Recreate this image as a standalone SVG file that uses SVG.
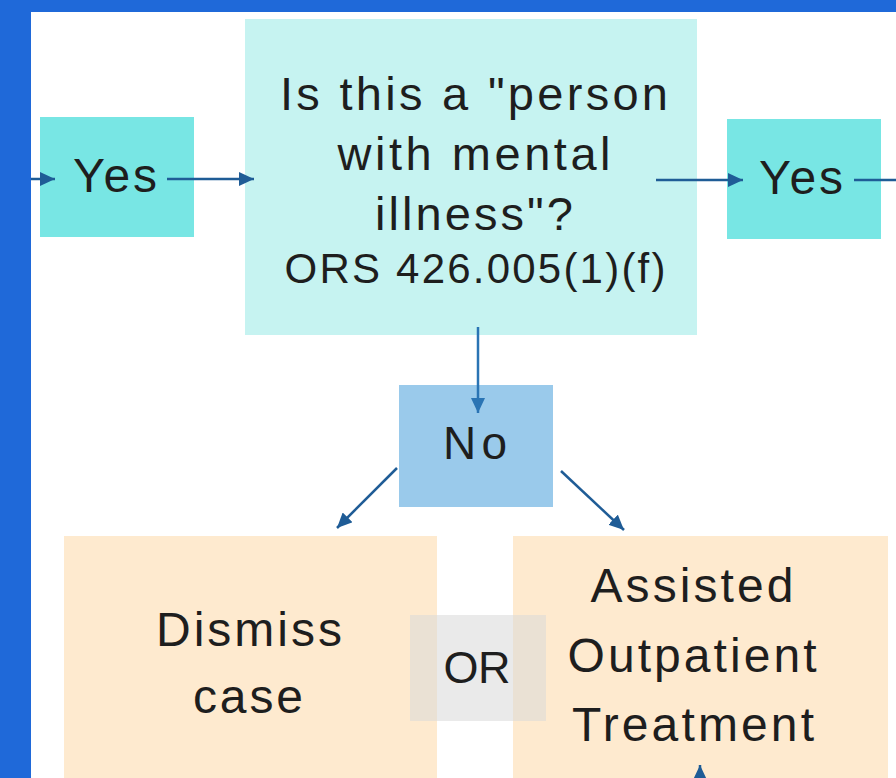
<svg xmlns="http://www.w3.org/2000/svg" width="896" height="778" viewBox="0 0 896 778">
<style>
text{font-family:"Liberation Sans",Arial,sans-serif;fill:#1e1e1e;text-anchor:middle}
.yes{fill:#78e6e4}
.main{fill:#c6f3f1}
.no{fill:#9acaeb}
.out{fill:#feeacf}
.or{fill:#d8d8d8;fill-opacity:0.55}
.c{stroke:#1f5c96;stroke-width:2.5;fill:none;marker-end:url(#ah)}
.c2{stroke:#2a74b4;stroke-width:2.5;fill:none;marker-end:url(#ah2)}
</style>
<defs>
<marker id="ah" markerUnits="userSpaceOnUse" markerWidth="15" markerHeight="14" viewBox="0 0 15 14" refX="15" refY="7" orient="auto">
<path d="M0,0 L15,7 L0,14 z" fill="#1f5c96"/>
</marker>
<marker id="ah2" markerUnits="userSpaceOnUse" markerWidth="15" markerHeight="14" viewBox="0 0 15 14" refX="15" refY="7" orient="auto">
<path d="M0,0 L15,7 L0,14 z" fill="#2a74b4"/>
</marker>
</defs>
<rect x="0" y="0" width="896" height="778" fill="#ffffff"/>
<rect x="0" y="0" width="896" height="12" fill="#1f69d9"/>
<rect x="0" y="0" width="31" height="778" fill="#1f69d9"/>

<g id="yes-left">
<rect class="yes" x="40" y="117" width="154" height="120"/>
<text x="115" y="192" font-size="48" textLength="84">Yes</text>
</g>
<g id="question">
<rect class="main" x="245" y="19" width="452" height="316"/>
<text x="474" y="110" font-size="47" textLength="388">Is this a "person</text>
<text x="474" y="170" font-size="47" textLength="273">with mental</text>
<text x="474" y="230" font-size="47" textLength="198">illness"?</text>
<text x="475" y="283" font-size="42" textLength="381">ORS 426.005(1)(f)</text>
</g>
<g id="yes-right">
<rect class="yes" x="727" y="119" width="154" height="120"/>
<text x="801" y="194" font-size="48" textLength="84">Yes</text>
</g>
<g id="no">
<rect class="no" x="399" y="385" width="154" height="122"/>
<text x="475" y="459" font-size="46" textLength="64">No</text>
</g>
<g id="dismiss">
<rect class="out" x="64" y="536" width="373" height="250"/>
<text x="249" y="646" font-size="48" textLength="186">Dismiss</text>
<text x="248" y="713" font-size="48" textLength="110">case</text>
</g>
<g id="aot">
<rect class="out" x="513" y="536" width="375" height="250"/>
<text x="692" y="602" font-size="48" textLength="203">Assisted</text>
<text x="692" y="672" font-size="48" textLength="249">Outpatient</text>
<text x="693" y="741" font-size="48" textLength="242">Treatment</text>
</g>
<g id="or">
<rect class="or" x="410" y="615" width="136" height="106"/>
<text x="477" y="683" font-size="45" textLength="67">OR</text>
</g>

<g id="connectors">
<line class="c" x1="31" y1="179" x2="55" y2="179"/>
<line class="c" x1="167" y1="179" x2="254" y2="179"/>
<line class="c" x1="656" y1="180" x2="743" y2="180"/>
<line class="c" x1="854" y1="180" x2="896" y2="180" style="marker-end:none"/>
<line class="c2" x1="478" y1="327" x2="478" y2="413"/>
<line class="c" x1="397" y1="468" x2="337" y2="528"/>
<line class="c" x1="561" y1="471" x2="624" y2="530"/>
<line class="c" x1="700" y1="800" x2="700" y2="765"/>
</g>
</svg>
